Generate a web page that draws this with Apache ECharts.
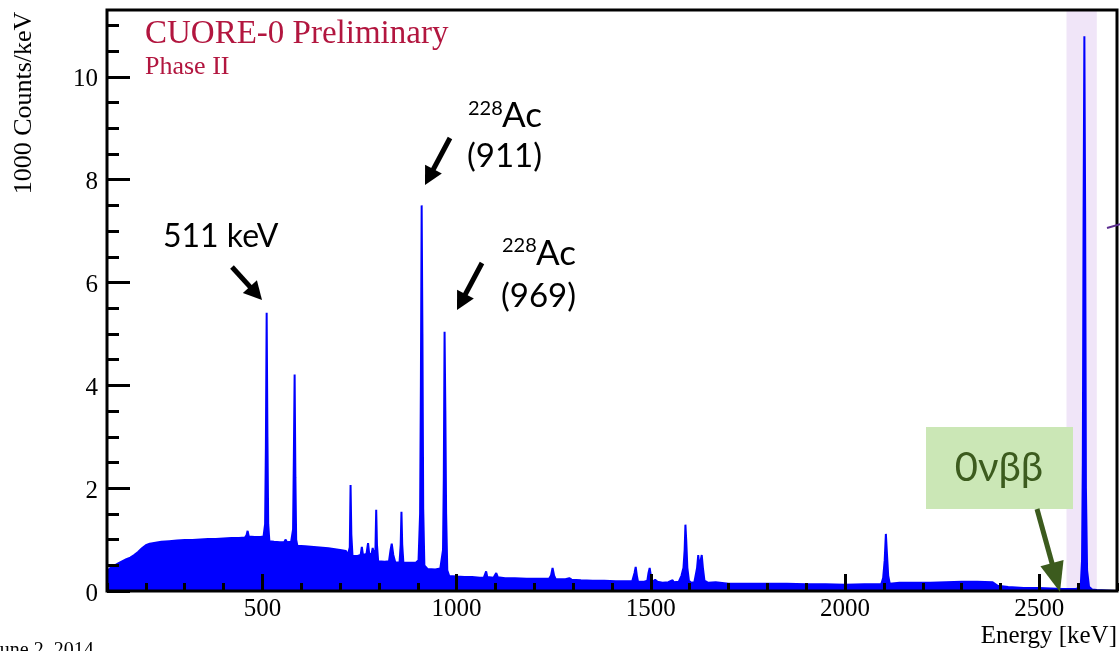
<!DOCTYPE html>
<html>
<head>
<meta charset="utf-8">
<title>CUORE-0 Phase II</title>
<script src="https://cdn.jsdelivr.net/npm/echarts@6/dist/echarts.min.js"></script>
<style>
  html, body { margin: 0; padding: 0; background: #fff; }
  #main { width: 1120px; height: 651px; }
</style>
</head>
<body>
<div id="main"></div>
<script>
// 能谱数据 (keV, 1000 counts/keV)
var energy = [
    100, 105, 110, 120, 130, 140, 150, 160, 170, 180, 190, 200, 210, 225, 240, 260, 280, 300, 320, 340,
    360, 380, 400, 420, 440, 455, 459, 462, 465, 480, 495, 503, 507, 509, 511, 513, 515, 518, 530, 545,
    556, 560, 563, 574, 579, 581, 583, 585, 587, 590, 610, 640, 670, 700, 715, 720, 725, 727, 729, 732,
    745, 753, 756, 759, 768, 772, 775, 781, 784, 787, 791, 793, 795, 798, 815, 826, 830, 833, 837, 842,
    853, 856, 858, 860, 863, 880, 895, 902, 906, 908, 910, 912, 914, 917, 925, 945, 958, 965, 967, 969,
    971, 973, 976, 981, 1000, 1020, 1040, 1060, 1070, 1076, 1079, 1095, 1102, 1106, 1125, 1150, 1180, 1210, 1238, 1243,
    1247, 1251, 1255, 1280, 1290, 1296, 1320, 1350, 1380, 1410, 1440, 1452, 1455, 1458, 1461, 1464, 1467, 1483, 1491, 1494,
    1497, 1500, 1504, 1511, 1514, 1517, 1530, 1545, 1556, 1559, 1572, 1579, 1584, 1587, 1589, 1591, 1594, 1598, 1604, 1612,
    1619, 1622, 1625, 1628, 1631, 1634, 1638, 1648, 1667, 1669, 1672, 1700, 1750, 1800, 1850, 1900, 1950, 2000, 2050, 2093,
    2098, 2102, 2105, 2108, 2111, 2115, 2140, 2180, 2220, 2260, 2300, 2340, 2380, 2393, 2420, 2460, 2500, 2530, 2560, 2594,
    2602, 2607, 2610, 2612, 2614, 2616, 2618, 2620, 2623, 2628, 2636, 2648, 2649, 2700
];
var counts = [
    0.35, 0.42, 0.46, 0.50, 0.54, 0.58, 0.62, 0.65, 0.70, 0.76, 0.83, 0.89, 0.92, 0.94, 0.96, 0.97, 0.98, 0.99, 0.99, 1.00,
    1.01, 1.01, 1.02, 1.03, 1.03, 1.04, 1.08, 1.17, 1.06, 1.05, 1.05, 1.06, 1.30, 2.80, 5.41, 3.00, 1.30, 0.97, 0.96, 0.95,
    0.95, 1.00, 0.95, 0.96, 1.20, 2.60, 4.21, 2.20, 1.00, 0.88, 0.87, 0.85, 0.83, 0.80, 0.78, 0.70, 0.85, 2.06, 1.10, 0.68,
    0.68, 0.70, 0.86, 0.70, 0.72, 0.93, 0.72, 0.72, 0.84, 0.72, 0.80, 1.58, 0.90, 0.58, 0.57, 0.58, 0.80, 0.92, 0.70, 0.56,
    0.55, 0.90, 1.54, 0.90, 0.55, 0.55, 0.55, 0.60, 1.50, 4.00, 7.50, 5.00, 1.60, 0.50, 0.43, 0.42, 0.44, 0.80, 2.20, 5.04,
    3.50, 1.50, 0.40, 0.29, 0.28, 0.27, 0.27, 0.26, 0.26, 0.38, 0.27, 0.26, 0.35, 0.27, 0.25, 0.25, 0.24, 0.24, 0.24, 0.30,
    0.45, 0.30, 0.23, 0.23, 0.25, 0.22, 0.21, 0.20, 0.20, 0.19, 0.19, 0.19, 0.20, 0.35, 0.47, 0.30, 0.18, 0.18, 0.20, 0.35,
    0.45, 0.30, 0.18, 0.22, 0.25, 0.18, 0.16, 0.17, 0.21, 0.17, 0.18, 0.30, 0.45, 0.80, 1.29, 1.00, 0.45, 0.20, 0.16, 0.17,
    0.45, 0.70, 0.47, 0.50, 0.70, 0.45, 0.20, 0.16, 0.17, 0.20, 0.15, 0.14, 0.14, 0.14, 0.14, 0.13, 0.13, 0.12, 0.13, 0.13,
    0.25, 0.60, 1.11, 0.70, 0.30, 0.14, 0.16, 0.16, 0.16, 0.17, 0.18, 0.18, 0.17, 0.10, 0.08, 0.06, 0.06, 0.05, 0.04, 0.04,
    0.06, 0.15, 0.60, 2.50, 7.40, 10.79, 7.40, 2.00, 0.40, 0.08, 0.03, 0.02, 0, 0
];
// 刻度
var xMajorTicks = [500, 1000, 1500, 2000, 2500];
var xMinorTicks = [100, 200, 300, 400, 600, 700, 800, 900, 1100, 1200, 1300, 1400, 1600, 1700, 1800, 1900, 2100, 2200, 2300, 2400, 2600, 2700];
var yMajorTicks = [0, 2, 4, 6, 8, 10];
var yMinorTicks = [0.5, 1, 1.5, 2.5, 3, 3.5, 4.5, 5, 5.5, 6.5, 7, 7.5, 8.5, 9, 9.5, 10.5, 11];
// 0νββ 感兴趣区域 (keV)
var roiBand = [2570, 2648];

(function () {
    var myChart = echarts.init(document.getElementById("main"));
    var serif = '"Liberation Serif", "DejaVu Serif", serif';
    var sans = 'Lato, "Open Sans", sans-serif';

    var data = [];
    for (var i = 0; i < energy.length; i++) {
        data.push([energy[i], counts[i]]);
    }

    // 画箭头 (线 + 三角形箭头)
    function arrow(x1, y1, x2, y2, color, w, hl, hw) {
        var dx = x2 - x1, dy = y2 - y1;
        var L = Math.sqrt(dx * dx + dy * dy);
        var ux = dx / L, uy = dy / L;
        var bx = x2 - ux * hl, by = y2 - uy * hl;
        var px = -uy, py = ux;
        return [
            { type: 'line', z: 10, shape: { x1: x1, y1: y1, x2: bx + ux * 3, y2: by + uy * 3 },
              style: { stroke: color, lineWidth: w } },
            { type: 'polygon', z: 10,
              shape: { points: [[x2, y2], [bx + px * hw / 2, by + py * hw / 2], [bx - px * hw / 2, by - py * hw / 2]] },
              style: { fill: color } }
        ];
    }

    function txt(x, y, s, font, size, color, align, vAlign) {
        return {
            type: 'text', z: 10, x: x, y: y,
            style: { text: s, fontFamily: font, fontSize: size, fill: color,
                     align: align || 'left', verticalAlign: vAlign || 'middle' }
        };
    }

    var graphics = [
        txt(145, 34, 'CUORE-0 Preliminary', serif, 33, '#b2163f'),
        txt(145, 67, 'Phase II', serif, 26, '#b2163f'),
        txt(163, 237, '511 keV', sans, 32, '#000'),
        txt(468, 109, '228', sans, 20, '#000'),
        txt(502, 116, 'Ac', sans, 35, '#000'),
        txt(467, 156, '(911)', sans, 33, '#000'),
        txt(502, 246, '228', sans, 20, '#000'),
        txt(536, 254, 'Ac', sans, 35, '#000'),
        txt(501, 296, '(969)', sans, 33, '#000'),
        {
            type: 'rect', z: 9, shape: { x: 926, y: 427, width: 147, height: 82 },
            style: { fill: '#cbe7b6' }
        },
        txt(999, 468, '0νββ', sans, 40, '#3c5b1e', 'center'),
        txt(1117, 636, 'Energy [keV]', serif, 25, '#000', 'right'),
        {
            type: 'text', z: 10, x: 24, y: 103, rotation: Math.PI / 2,
            style: { text: '1000 Counts/keV', fontFamily: serif, fontSize: 26, fill: '#000',
                     align: 'center', verticalAlign: 'middle' }
        },
        txt(-8, 651, 'June 2, 2014', serif, 20, '#000'),
        { type: 'line', z: 10, shape: { x1: 1107, y1: 228, x2: 1121, y2: 224 },
          style: { stroke: '#5b2c8f', lineWidth: 2 } }
    ];
    graphics = graphics
        .concat(arrow(232, 267, 262, 300, '#000', 5, 18, 19))
        .concat(arrow(450, 138, 425, 185, '#000', 5, 18, 19))
        .concat(arrow(482, 263, 457, 310, '#000', 5, 18, 19))
        .concat(arrow(1037, 509, 1060, 592, '#3c5b1e', 5, 30, 24));

    var tickStyle = { color: '#000', width: 3 };
    var plainNum = function (v) { return String(v); };

    var option = {
        animation: false,
        grid: {
            left: 107, right: 3, top: 10, bottom: 60,
            show: true, borderColor: '#000', borderWidth: 3,
            backgroundColor: 'transparent', z: 5
        },
        xAxis: [
            {
                type: 'value', min: 100, max: 2700, position: 'bottom', z: 5,
                axisLine: { show: false },
                splitLine: { show: false },
                axisTick: { inside: true, length: 17, customValues: xMajorTicks, lineStyle: tickStyle },
                axisLabel: { customValues: xMajorTicks, formatter: plainNum, fontFamily: serif,
                             fontSize: 25, color: '#000', margin: 6 }
            },
            {
                type: 'value', min: 100, max: 2700, position: 'bottom', offset: 0, z: 5,
                axisLine: { show: false },
                splitLine: { show: false },
                axisTick: { inside: true, length: 8, customValues: xMinorTicks, lineStyle: tickStyle },
                axisLabel: { show: false }
            }
        ],
        yAxis: [
            {
                type: 'value', min: 0, max: 11.3, position: 'left', z: 5,
                axisLine: { show: false },
                splitLine: { show: false },
                axisTick: { inside: true, length: 23, customValues: yMajorTicks, lineStyle: tickStyle },
                axisLabel: {
                    customValues: yMajorTicks, margin: 9,
                    formatter: function (v) { return '{n|' + v + '}'; },
                    rich: { n: { fontFamily: serif, fontSize: 25, color: '#000', padding: [6, 0, 0, 0] } }
                }
            },
            {
                type: 'value', min: 0, max: 11.3, position: 'left', offset: 0, z: 5,
                axisLine: { show: false },
                splitLine: { show: false },
                axisTick: { inside: true, length: 12, customValues: yMinorTicks, lineStyle: tickStyle },
                axisLabel: { show: false }
            }
        ],
        series: [
            {
                name: 'roi',
                type: 'line',
                z: 1,
                xAxisIndex: 0,
                yAxisIndex: 0,
                data: [],
                markArea: {
                    silent: true,
                    itemStyle: { color: '#f0e5f8' },
                    data: [[{ xAxis: roiBand[0] }, { xAxis: roiBand[1] }]]
                }
            },
            {
                name: 'spectrum',
                type: 'line',
                z: 2,
                xAxisIndex: 0,
                yAxisIndex: 0,
                showSymbol: false,
                symbol: 'none',
                lineStyle: { color: '#0000ff', width: 2 },
                areaStyle: { color: '#0000ff', opacity: 1 },
                data: data
            }
        ],
        graphic: graphics
    };

    myChart.setOption(option);
    window.addEventListener("resize", function () {
        myChart.resize();
    });
})();
</script>
</body>
</html>
